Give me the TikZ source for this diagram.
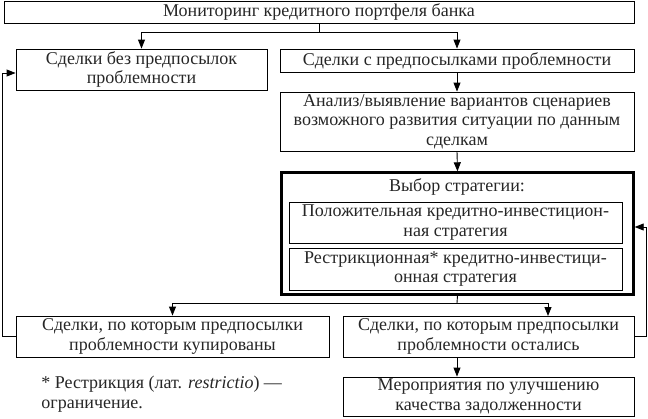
\documentclass[tikz,border=0pt]{standalone}
\usepackage{fontspec}
\setmainfont{Liberation Serif}
\usetikzlibrary{arrows.meta}
\begin{document}
\begin{tikzpicture}[x=1pt,y=-1pt,
  box/.style={draw, line width=0.9pt, rectangle, inner sep=0pt, align=center,
    font=\fontsize{18}{19.5}\selectfont, text=black!85},
  thickbox/.style={draw, line width=2.4pt, rectangle, inner sep=0pt},
  arr/.style={line width=0.9pt, -{Triangle[length=9pt,width=7pt]}},
  ln/.style={line width=0.9pt}]
\useasboundingbox (0,0) rectangle (648,418);
\node[box, minimum width=630pt, minimum height=22pt] (top) at (319,12) {Мониторинг кредитного портфеля банка};
\node[box, minimum width=251pt, minimum height=41pt] (bez) at (141.5,69.5) {Сделки без предпосылок\\проблемности};
\node[box, minimum width=354pt, minimum height=23pt] (s) at (457,60.5) {Сделки с предпосылками проблемности};
\node[box, minimum width=354pt, minimum height=59pt] (an) at (457,121.5) {Анализ/выявление вариантов сценариев\\возможного развития ситуации по данным\\сделкам};
\node[thickbox, minimum width=352pt, minimum height=122pt] (thick) at (457.5,233.5) {};
\node[box, draw=none] (title) at (457,187) {Выбор стратегии:};
\node[box, minimum width=333pt, minimum height=41pt] (in1) at (455.5,222.5) {Положительная кредитно-инвестицион-\\ная стратегия};
\node[box, minimum width=333pt, minimum height=42pt] (in2) at (455.5,269) {Рестрикционная* кредитно-инвестици-\\онная стратегия};
\node[box, minimum width=313pt, minimum height=41pt] (kup) at (172.5,336.5) {Сделки, по которым предпосылки\\проблемности купированы};
\node[box, minimum width=291pt, minimum height=41pt] (ost) at (488.5,336.5) {Сделки, по которым предпосылки\\проблемности остались};
\node[box, minimum width=291pt, minimum height=39pt] (mer) at (488.5,396.5) {Мероприятия по улучшению\\качества задолженности};
\node[box, draw=none, align=left, anchor=west] (fn) at (41,394) {* Рестрикция (лат. \textit{restrictio}) —\\ограничение.};
% connectors
\coordinate (j1) at (319,32);
\draw[ln] (top.south) -- (j1);
\draw[arr] (j1) -| (bez.north);
\draw[arr] (j1) -| (s.north);
\draw[arr] (s.south) -- (an.north);
\draw[arr] (an.south) -- (thick.north);
\coordinate (j2) at (457,303);
\coordinate (ostin) at (548,316);
\draw[ln] (thick.south) -- (j2);
\draw[arr] (j2) -| (kup.north);
\draw[arr] (j2) -| (ostin);
\draw[arr] (ost.south -| an.south) -- (mer.north -| an.south);
\coordinate (lx) at (2.5,0);
\draw[arr] (kup.west) -- (kup.west -| lx) |- ([yshift=-3.5pt]bez.west);
\coordinate (rx) at (646.5,0);
\draw[arr] (ost.east) -- (ost.east -| rx) |- ([yshift=6.5pt]thick.east);
\end{tikzpicture}
\end{document}
